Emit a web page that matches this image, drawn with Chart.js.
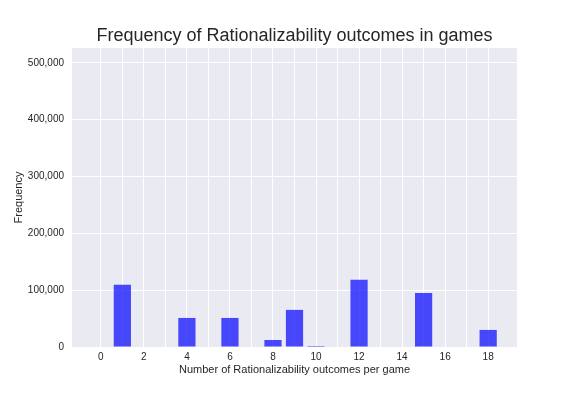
<!DOCTYPE html>
<html>
<head>
<meta charset="utf-8">
<script src="https://cdn.jsdelivr.net/npm/chart.js@4/dist/chart.umd.min.js"></script>
<style>
  html, body { margin: 0; padding: 0; background: #ffffff; }
  #wrap { width: 576px; height: 396px; }
</style>
</head>
<body>
<div id="wrap"><canvas id="c" width="576" height="396"></canvas></div>
<script>
// Data
const outcomes = [0, 1, 2, 3, 4, 5, 6, 7, 8, 9, 10, 11, 12, 13, 14, 15, 16, 17, 18];
const frequencies = [0, 109300, 0, 0, 51100, 0, 51100, 0, 12300, 65300, 1800, 0, 118200, 0, 0, 95200, 0, 0, 30000];
const xTickValues = [0, 1, 2, 3, 4, 5, 6, 7, 8, 9, 10, 11, 12, 13, 14, 15, 16, 17, 18];
const yTickValues = [0, 100000, 200000, 300000, 400000, 500000];

const FONT = "'Liberation Sans', Arial, sans-serif";
const TEXT = '#262626';

const bgPlugin = {
  id: 'plotBg',
  beforeDraw(chart) {
    const { ctx, chartArea: a } = chart;
    ctx.save();
    ctx.fillStyle = '#ffffff';
    ctx.fillRect(0, 0, chart.width, chart.height);
    ctx.fillStyle = '#EAEAF2';
    ctx.fillRect(a.left, a.top, a.right - a.left, a.bottom - a.top);
    ctx.restore();
  }
};

new Chart(document.getElementById('c'), {
  type: 'bar',
  data: {
    datasets: [{
      data: outcomes.map((x, i) => ({ x: x, y: frequencies[i] })),
      backgroundColor: 'rgba(0,0,255,0.7)',
      borderWidth: 0,
      barPercentage: 0.8,
      categoryPercentage: 1.0
    }]
  },
  options: {
    responsive: false,
    animation: false,
    devicePixelRatio: 1,
    layout: { padding: { left: 0, right: 59, top: 0, bottom: 0 } },
    plugins: {
      legend: { display: false },
      tooltip: { enabled: false },
      title: {
        display: true,
        fullSize: false,
        text: 'Frequency of Rationalizability outcomes in games',
        color: TEXT,
        font: { family: FONT, size: 18, weight: 'normal', lineHeight: 1.2 },
        padding: { top: 25, bottom: 1.4 }
      }
    },
    scales: {
      x: {
        type: 'linear',
        offset: false,
        min: -1.34,
        max: 19.34,
        afterBuildTicks(scale) { scale.ticks = xTickValues.map(v => ({ value: v })); },
        afterFit(scale) { scale.height = 49; },
        grid: { color: '#ffffff', lineWidth: 1, drawTicks: false, offset: false },
        border: { display: false },
        ticks: {
          color: TEXT,
          padding: 4,
          autoSkip: false,
          maxRotation: 0,
          font: { family: FONT, size: 10 },
          callback: (v) => (v % 2 === 0 ? String(v) : '')
        },
        title: {
          display: true,
          text: 'Number of Rationalizability outcomes per game',
          color: TEXT,
          font: { family: FONT, size: 11 },
          padding: { top: 0, bottom: 19 }
        }
      },
      y: {
        type: 'linear',
        min: 0,
        max: 526000,
        afterBuildTicks(scale) { scale.ticks = yTickValues.map(v => ({ value: v })); },
        afterFit(scale) { scale.width = 72; },
        grid: { color: '#ffffff', lineWidth: 1, drawTicks: false },
        border: { display: false },
        ticks: {
          color: TEXT,
          padding: 8,
          font: { family: FONT, size: 10 },
          callback: (v) => v.toLocaleString('en-US')
        },
        title: {
          display: true,
          text: 'Frequency',
          color: TEXT,
          font: { family: FONT, size: 11 },
          padding: { top: 12, bottom: 0 }
        }
      }
    }
  },
  plugins: [bgPlugin]
});
</script>
</body>
</html>
